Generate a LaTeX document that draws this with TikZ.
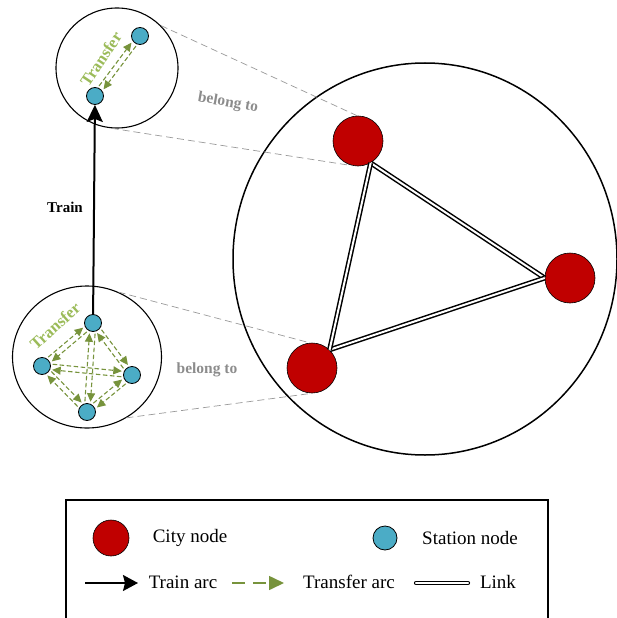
\documentclass[tikz,border=0pt]{standalone}
\usepackage{fontspec}
\setmainfont{Liberation Serif}
\usetikzlibrary{arrows.meta,calc,shapes.geometric}
\definecolor{cityred}{HTML}{C00000}
\definecolor{stblue}{HTML}{4BACC6}
\definecolor{trgreen}{HTML}{77933C}
\definecolor{trtext}{HTML}{9BBB59}
\definecolor{belgray}{HTML}{8C8C8C}
\newcommand\tpair[2]{%
  \draw[tarc] ($(#1)!10.5pt!(#2)!2.8pt!90:(#2)$) -- ($(#2)!10.5pt!(#1)!2.8pt!-90:(#1)$);
  \draw[tarc] ($(#2)!10.5pt!(#1)!2.8pt!90:(#1)$) -- ($(#1)!10.5pt!(#2)!2.8pt!-90:(#2)$);}
\begin{document}
\begin{tikzpicture}[x=1pt,y=-1pt,
  city/.style={circle,draw=black,line width=0.6pt,fill=cityred,minimum size=50pt,inner sep=0pt},
  station/.style={circle,draw=black,line width=0.8pt,fill=stblue,minimum size=17pt,inner sep=0pt},
  zone/.style={ellipse,draw=black,line width=1.1pt,inner sep=0pt},
  tarc/.style={draw=trgreen,line width=1.1pt,dash pattern=on 4.5pt off 2.5pt,-{Triangle[length=8.5pt,width=8pt]}},
  trainarc/.style={draw=black,line width=2pt,-{Stealth[length=17pt,width=16pt,inset=3pt]}},
  link/.style={draw=black,line width=1.5pt,double=white,double distance=2pt},
  belong/.style={draw=gray!80,line width=0.7pt,dash pattern=on 7pt off 4pt},
  lbl/.style={font=\fontsize{15}{17}\selectfont\bfseries,inner sep=0pt},
  leg/.style={font=\fontsize{19}{22}\selectfont,inner sep=0pt}
]
\useasboundingbox (0,0) rectangle (617,618);

% zones
\node[zone,minimum width=122pt,minimum height=120pt] (tz) at (117,68) {};
\node[zone,minimum width=149pt,minimum height=142pt] (bz) at (87,357) {};
\node[zone,line width=1.5pt,minimum width=384pt,minimum height=392pt] (cz) at (425,259) {};

% city nodes
\node[city] (c1) at (358,141) {};
\node[city] (c2) at (570,278) {};
\node[city] (c3) at (312,368) {};

% stations
\node[station] (t1) at (140,36) {};
\node[station] (t2) at (95,96) {};
\node[station] (b1) at (93,323) {};
\node[station] (b2) at (42,366) {};
\node[station] (b3) at (132,375) {};
\node[station] (b4) at (87,412) {};

% belong-to lines
\draw[belong] (tz.44) -- (c1.92);
\draw[belong] (tz.-95) -- (c1.-102);
\draw[belong] (bz.64) -- (c3.95);
\draw[belong] (bz.-57) -- (c3.-90);

% links
\draw[link] (c1.-60) -- (c2.west);
\draw[link] (c2.west) -- (c3.46);
\draw[link] (c3.46) -- (c1.-60);

% transfer arcs
\tpair{t2}{t1}
\tpair{b1}{b2}
\tpair{b1}{b3}
\tpair{b1}{b4}
\tpair{b2}{b3}
\tpair{b2}{b4}
\tpair{b3}{b4}

% train arc
\draw[trainarc] (b1) -- (t2);

% labels
\node[lbl] (ltrain) at (65,207) {Train};
\node[lbl,text=trtext,font=\fontsize{16.5}{18}\selectfont\bfseries,rotate=56] (ltr1) at (101,59) {Transfer};
\node[lbl,text=trtext,font=\fontsize{16.5}{18}\selectfont\bfseries,rotate=42] (ltr2) at (55,326) {Transfer};
\node[lbl,text=belgray,font=\fontsize{15.5}{18}\selectfont\bfseries,rotate=-10] (lb1) at (228,103) {belong to};
\node[lbl,text=belgray,font=\fontsize{15.5}{18}\selectfont\bfseries] (lb2) at (207,370) {belong to};

% legend
\draw[line width=1.4pt] (66,625) -- (66,500) -- (548,500) -- (548,625);
\node[city,minimum size=36pt] (lc) at (111,538) {};
\node[leg] (lct) at (190,538) {City node};
\node[station,minimum size=24pt] (ls) at (385,538) {};
\node[leg] (lst) at (470,538) {Station node};
\coordinate (la1) at (85,583);
\coordinate (la2) at (138,583);
\draw[draw=black,line width=1.6pt,-{Stealth[length=15pt,width=16pt,inset=2pt]}] (la1) -- (la2);
\node[leg] (lat) at (183,582) {Train arc};
\coordinate (lt1) at (232,583);
\coordinate (lt2) at (284,583);
\draw[draw=trgreen,line width=1.6pt,dash pattern=on 13pt off 8pt,-{Triangle[length=15pt,width=14pt]}] (lt1) -- (lt2);
\node[leg] (ltt) at (349,582) {Transfer arc};
\coordinate (ll1) at (416,583);
\coordinate (ll2) at (468,583);
\draw[draw=black,line width=1pt,double=white,double distance=2.2pt,line cap=round] (ll1) -- (ll2);
\node[leg] (llt) at (498,582) {Link};
\end{tikzpicture}
\end{document}
